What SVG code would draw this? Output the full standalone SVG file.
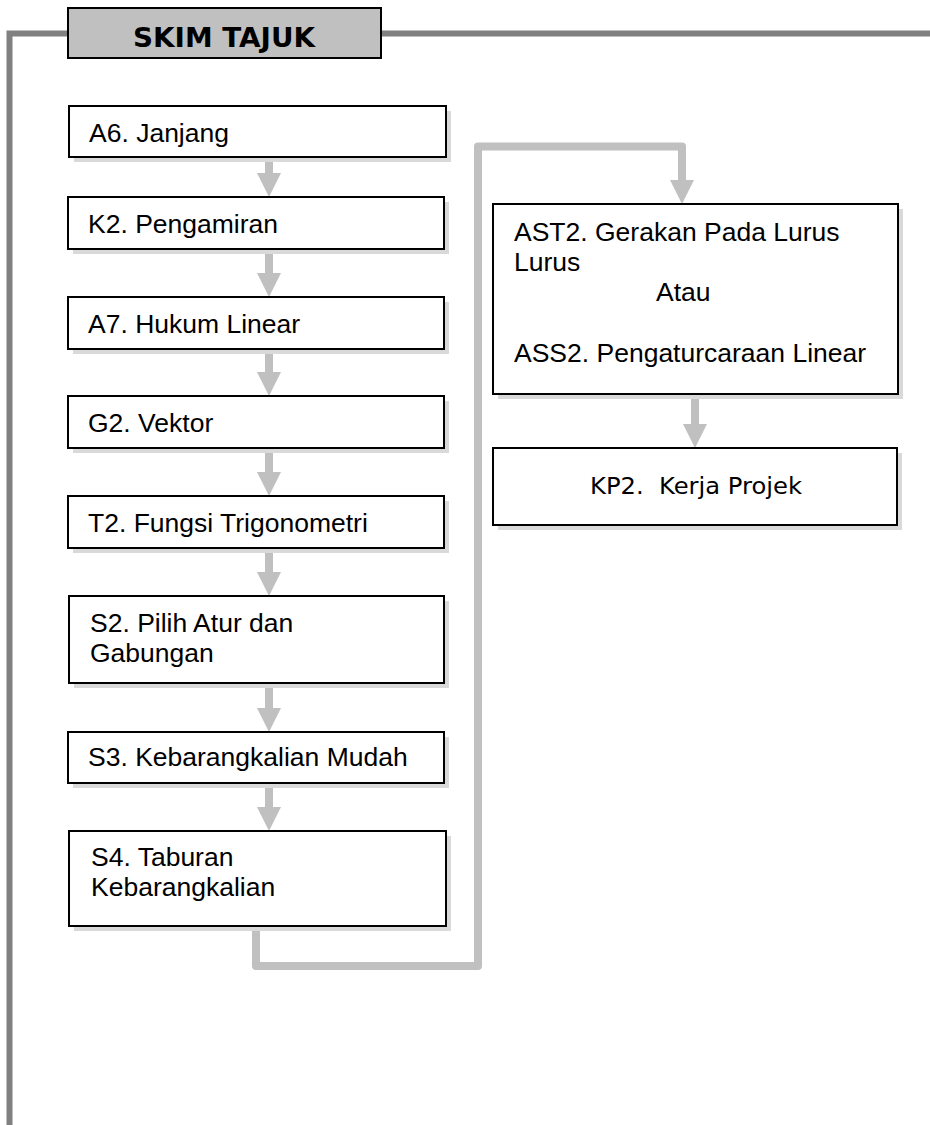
<svg xmlns="http://www.w3.org/2000/svg" width="930" height="1125" viewBox="0 0 930 1125">
<style>
.frame{fill:none;stroke:#808080;stroke-width:6}
.shadow{fill:#d9d9d9}
.box{fill:#ffffff;stroke:#000000;stroke-width:2}
.hdr{fill:#c0c0c0;stroke:#000000;stroke-width:2}
.t{font-family:"Liberation Sans",Arial,sans-serif;font-size:26.5px;fill:#000}
.tk{font-family:"DejaVu Sans",Verdana,sans-serif;font-size:23.5px;fill:#000}
.th{font-family:"DejaVu Sans",Verdana,sans-serif;font-size:26px;font-weight:bold;fill:#000}
.conn{fill:none;stroke:#c0c0c0;stroke-width:8;stroke-linejoin:round}
</style>
<defs>
<marker id="ah" viewBox="0 0 24 24" markerWidth="24" markerHeight="24" markerUnits="userSpaceOnUse" refX="4" refY="12" orient="auto">
<path d="M0,0 L24,12 L0,24 Z" fill="#c0c0c0"/>
</marker>
</defs>

<g id="frame">
<path class="frame" d="M9.5,1125 V33.5 H68 M381,33.5 H930"/>
</g>

<g id="header">
<rect class="hdr" x="68" y="8" width="313" height="50"/>
<text class="th" x="224" y="47" text-anchor="middle" textLength="182" lengthAdjust="spacingAndGlyphs">SKIM TAJUK</text>
</g>

<g id="connectors">
<line class="conn" x1="269" y1="157" x2="269" y2="177" marker-end="url(#ah)"/>
<line class="conn" x1="269" y1="249" x2="269" y2="277" marker-end="url(#ah)"/>
<line class="conn" x1="269" y1="349" x2="269" y2="376" marker-end="url(#ah)"/>
<line class="conn" x1="269" y1="448" x2="269" y2="476" marker-end="url(#ah)"/>
<line class="conn" x1="269" y1="548" x2="269" y2="576" marker-end="url(#ah)"/>
<line class="conn" x1="269" y1="683" x2="269" y2="712" marker-end="url(#ah)"/>
<line class="conn" x1="269" y1="783" x2="269" y2="811" marker-end="url(#ah)"/>
<path class="conn" d="M256,926 V966 H478 V146.5 H682 V184" marker-end="url(#ah)"/>
<line class="conn" x1="695" y1="394" x2="695" y2="428" marker-end="url(#ah)"/>
</g>

<g id="n-a6">
<rect class="shadow" x="74" y="111" width="377" height="51"/>
<rect class="box" x="69" y="106" width="377" height="51"/>
<text class="t" x="89" y="142">A6. Janjang</text>
</g>
<g id="n-k2">
<rect class="shadow" x="73" y="202" width="376" height="52"/>
<rect class="box" x="68" y="197" width="376" height="52"/>
<text class="t" x="88" y="233">K2. Pengamiran</text>
</g>
<g id="n-a7">
<rect class="shadow" x="73" y="302" width="376" height="52"/>
<rect class="box" x="68" y="297" width="376" height="52"/>
<text class="t" x="88" y="333">A7. Hukum Linear</text>
</g>
<g id="n-g2">
<rect class="shadow" x="73" y="401" width="376" height="52"/>
<rect class="box" x="68" y="396" width="376" height="52"/>
<text class="t" x="88" y="432">G2. Vektor</text>
</g>
<g id="n-t2">
<rect class="shadow" x="73" y="501" width="376" height="52"/>
<rect class="box" x="68" y="496" width="376" height="52"/>
<text class="t" x="88" y="532">T2. Fungsi Trigonometri</text>
</g>
<g id="n-s2">
<rect class="shadow" x="74" y="601" width="375" height="87"/>
<rect class="box" x="69" y="596" width="375" height="87"/>
<text class="t" x="90" y="632">S2. Pilih Atur dan</text>
<text class="t" x="90" y="662">Gabungan</text>
</g>
<g id="n-s3">
<rect class="shadow" x="73" y="737" width="376" height="51"/>
<rect class="box" x="68" y="732" width="376" height="51"/>
<text class="t" x="88" y="766">S3. Kebarangkalian Mudah</text>
</g>
<g id="n-s4">
<rect class="shadow" x="74" y="836" width="377" height="95"/>
<rect class="box" x="69" y="831" width="377" height="95"/>
<text class="t" x="91" y="866">S4. Taburan</text>
<text class="t" x="91" y="896">Kebarangkalian</text>
</g>
<g id="n-ast2">
<rect class="shadow" x="498" y="209" width="405" height="190"/>
<rect class="box" x="493" y="204" width="405" height="190"/>
<text class="t" x="514" y="241">AST2. Gerakan Pada Lurus</text>
<text class="t" x="514" y="271">Lurus</text>
<text class="t" x="656" y="301">Atau</text>
<text class="t" x="514" y="362">ASS2. Pengaturcaraan Linear</text>
</g>
<g id="n-kp2">
<rect class="shadow" x="498" y="453" width="404" height="77"/>
<rect class="box" x="493" y="448" width="404" height="77"/>
<text class="tk" x="696" y="494" text-anchor="middle" xml:space="preserve" textLength="212" lengthAdjust="spacingAndGlyphs">KP2.  Kerja Projek</text>
</g>
</svg>
